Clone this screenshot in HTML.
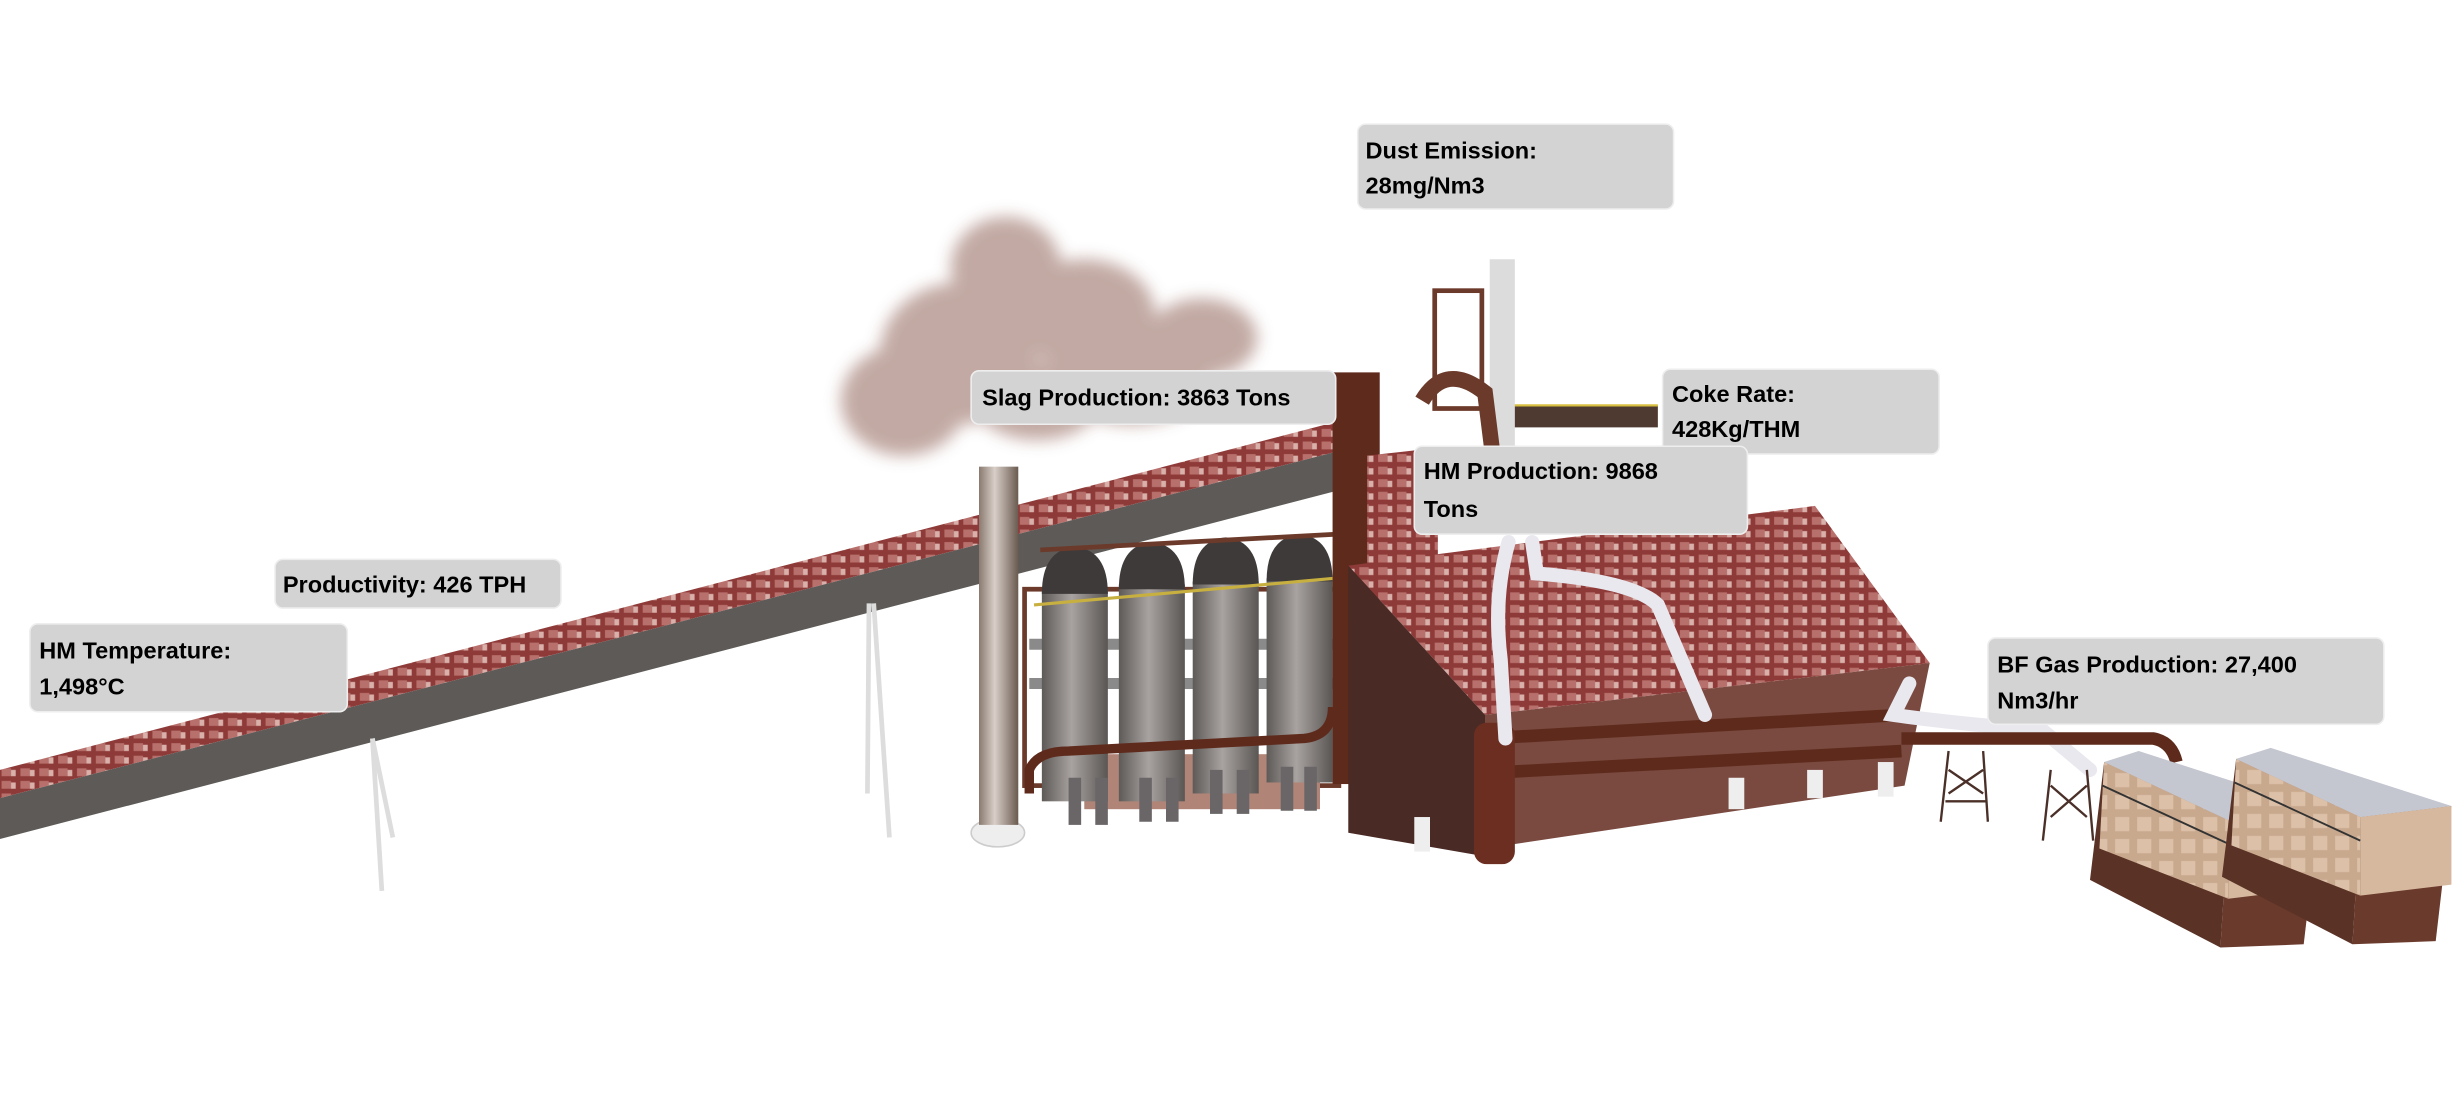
<!DOCTYPE html>
<html><head><meta charset="utf-8"><style>
html,body{margin:0;padding:0;background:#fff;}
svg{display:block}
.lb{font-family:"Liberation Sans",sans-serif;font-weight:bold;font-size:15px;fill:#000}
.bx{fill:#d3d3d3;stroke:#eee;stroke-width:1}
</style></head><body>
<svg width="2464" height="1114" viewBox="0 0 1568 709" preserveAspectRatio="none" xmlns="http://www.w3.org/2000/svg">
<defs>
<pattern id="tile" width="12" height="8" patternUnits="userSpaceOnUse">
<rect width="12" height="8" fill="#8e3a38"/><rect x="1" y="1" width="6" height="5" fill="#b8706c"/><rect x="7" y="2" width="3" height="4" fill="#d9b0aa"/>
</pattern>
<pattern id="chk" width="14" height="14" patternUnits="userSpaceOnUse">
<rect width="14" height="14" fill="#c9a98e"/><rect x="2" y="2" width="9" height="9" fill="#dcc0a8"/>
</pattern>
<filter id="bl" x="-20%" y="-20%" width="140%" height="140%"><feGaussianBlur stdDeviation="5"/></filter>
<linearGradient id="cyl" x1="0" x2="1"><stop offset="0" stop-color="#5e5a58"/><stop offset=".45" stop-color="#a8a3a0"/><stop offset="1" stop-color="#5a5654"/></linearGradient>
<linearGradient id="box" x1="0" x2="1"><stop offset="0" stop-color="#b89478"/><stop offset=".5" stop-color="#d6b89e"/><stop offset="1" stop-color="#b08f75"/></linearGradient>
<linearGradient id="ch" x1="0" x2="1"><stop offset="0" stop-color="#8a7a70"/><stop offset=".4" stop-color="#d8cfc8"/><stop offset="1" stop-color="#6a5a50"/></linearGradient>
</defs>
<!-- smoke -->
<g filter="url(#bl)" fill="#bca09a" opacity=".9">
<ellipse cx="575" cy="255" rx="40" ry="35"/><ellipse cx="640" cy="170" rx="35" ry="32"/><ellipse cx="690" cy="200" rx="45" ry="35"/><ellipse cx="765" cy="215" rx="35" ry="25"/><ellipse cx="610" cy="225" rx="50" ry="45"/><ellipse cx="720" cy="240" rx="50" ry="30"/><ellipse cx="660" cy="255" rx="40" ry="25"/>
</g>
<!-- conveyor -->
<polygon points="0,490 852,268 852,287 0,508" fill="url(#tile)"/>
<polygon points="0,508 852,287 852,312 0,534" fill="#5e5a57"/>
<g stroke="#ddd" stroke-width="3">
<line x1="237" y1="470" x2="243" y2="567"/><line x1="237" y1="470" x2="250" y2="533"/>
<line x1="553" y1="384" x2="552" y2="505"/><line x1="556" y1="384" x2="566" y2="533"/>
</g>
<!-- chimney -->
<ellipse cx="635" cy="530" rx="17" ry="9" fill="#eee" stroke="#ccc"/>
<rect x="623" y="297" width="25" height="228" fill="url(#ch)"/>
<!-- stove area -->
<rect x="652" y="375" width="200" height="125" fill="none" stroke="#6b3a2a" stroke-width="3"/>
<g stroke="#8a8a8a" stroke-width="7"><line x1="655" y1="410" x2="850" y2="410"/><line x1="655" y1="435" x2="850" y2="435"/></g>
<rect x="690" y="480" width="150" height="35" fill="#b08476"/>
<g fill="url(#cyl)">
<rect x="663" y="375" width="42" height="135"/>
<rect x="712" y="372" width="42" height="138"/>
<rect x="759" y="370" width="42" height="135"/>
<rect x="806" y="368" width="42" height="130"/>
</g>
<g fill="#3e3a3a">
<path d="M663,378 Q663,350 684,348 Q705,350 705,378Z"/>
<path d="M712,375 Q712,347 733,345 Q754,347 754,375Z"/>
<path d="M759,372 Q759,344 780,342 Q801,344 801,372Z"/>
<path d="M806,370 Q806,342 827,340 Q848,342 848,370Z"/>
</g>
<path d="M658,385 L850,368" stroke="#c8b040" stroke-width="2"/>
<path d="M662,350 L850,340" stroke="#6b3a2a" stroke-width="3"/>
<path d="M655,505 L655,490 Q660,478 680,478 L830,470 Q848,468 848,450" stroke="#5e2a1c" stroke-width="6" fill="none"/>
<g fill="#6a6668"><rect x="680" y="495" width="8" height="30"/><rect x="697" y="495" width="8" height="30"/><rect x="725" y="495" width="8" height="28"/><rect x="742" y="495" width="8" height="28"/><rect x="770" y="490" width="8" height="28"/><rect x="787" y="490" width="8" height="28"/><rect x="815" y="488" width="8" height="28"/><rect x="830" y="488" width="8" height="28"/></g>
<!-- column -->
<rect x="848" y="237" width="30" height="262" fill="#5e2a1c"/>
<!-- top structure -->
<rect x="913" y="185" width="30" height="75" fill="none" stroke="#6b3a2a" stroke-width="3"/>
<rect x="955" y="258" width="100" height="14" fill="#4e3a30"/>
<line x1="955" y1="258" x2="1055" y2="258" stroke="#d8c040" stroke-width="1.5"/>
<rect x="948" y="165" width="16" height="160" fill="#dcdcdc"/>
<path d="M905,255 Q920,230 945,250 L950,290" stroke="#6b3a2a" stroke-width="10" fill="none"/>
<!-- main building -->
<polygon points="858,360 1155,322 1228,422 945,455" fill="url(#tile)"/>
<polygon points="858,360 945,455 945,545 858,530" fill="#4a2a25"/>
<polygon points="945,455 1228,422 1212,500 945,540" fill="#7a4a40"/>
<polygon points="870,290 915,285 915,360 870,365" fill="url(#tile)"/>
<g stroke="#5e2a1c" stroke-width="8" fill="none">
<line x1="945" y1="470" x2="1210" y2="455"/><line x1="945" y1="492" x2="1210" y2="478"/>
</g>
<rect x="938" y="460" width="26" height="90" rx="8" fill="#6b2e20"/>
<g stroke="#e8e8ee" stroke-width="9" fill="none" stroke-linecap="round">
<path d="M960,345 Q950,380 955,420 L958,470"/>
<path d="M975,345 L978,365 Q1040,370 1055,385 L1085,455"/>
<path d="M1215,435 L1205,455 Q1240,460 1300,465 L1330,490"/>
</g>
<g fill="#eee"><rect x="1100" y="495" width="10" height="20"/><rect x="1150" y="490" width="10" height="18"/><rect x="1195" y="485" width="10" height="22"/><rect x="900" y="520" width="10" height="22"/></g>
<!-- gas pipe -->
<path d="M1210,470 L1370,470 Q1382,472 1385,485" stroke="#5e2a1c" stroke-width="8" fill="none"/>
<g stroke="#4a3028" stroke-width="1.5" fill="none">
<path d="M1240,478 L1235,523 M1262,478 L1265,523 M1240,490 L1262,505 M1262,490 L1240,505 M1238,510 L1264,510"/>
<path d="M1305,490 L1300,535 M1328,490 L1332,535 M1305,500 L1328,520 M1328,500 L1305,520"/>
</g>
<!-- boxes -->
<g id="b1">
<polygon points="1339,485 1418,522 1413,603 1330,560" fill="#5a3226"/>
<polygon points="1418,522 1476,515 1466,601 1413,603" fill="#6a3a2c"/>
<polygon points="1339,485 1418,522 1418,572 1336,540" fill="url(#chk)"/>
<polygon points="1418,522 1476,515 1476,565 1418,572" fill="#d6b89e"/>
<polygon points="1339,485 1361,478 1476,515 1418,522" fill="#c4c6d0"/>
<line x1="1338" y1="500" x2="1418" y2="537" stroke="#333" stroke-width="1.2"/>
</g>
<g transform="translate(84,-2)">
<polygon points="1339,485 1418,522 1413,603 1330,560" fill="#5a3226"/>
<polygon points="1418,522 1476,515 1466,601 1413,603" fill="#6a3a2c"/>
<polygon points="1339,485 1418,522 1418,572 1336,540" fill="url(#chk)"/>
<polygon points="1418,522 1476,515 1476,565 1418,572" fill="#d6b89e"/>
<polygon points="1339,485 1361,478 1476,515 1418,522" fill="#c4c6d0"/>
<line x1="1338" y1="500" x2="1418" y2="537" stroke="#333" stroke-width="1.2"/>
</g>
<!-- labels -->
<rect class="bx" x="864" y="79" width="201" height="54" rx="5"/>
<text class="lb" x="869" y="101">Dust Emission:</text><text class="lb" x="869" y="123">28mg/Nm3</text>
<rect class="bx" x="618" y="236" width="232" height="34" rx="5"/>
<text class="lb" x="625" y="258">Slag Production: 3863 Tons</text>
<rect class="bx" x="1058" y="235" width="176" height="54" rx="5"/>
<text class="lb" x="1064" y="256">Coke Rate:</text><text class="lb" x="1064" y="278">428Kg/THM</text>
<rect class="bx" x="900" y="284" width="212" height="56" rx="5"/>
<text class="lb" x="906" y="305">HM Production: 9868</text><text class="lb" x="906" y="329">Tons</text>
<rect class="bx" x="175" y="356" width="182" height="31" rx="5"/>
<text class="lb" x="180" y="377">Productivity: 426 TPH</text>
<rect class="bx" x="19" y="397" width="202" height="56" rx="5"/>
<text class="lb" x="25" y="419">HM Temperature:</text><text class="lb" x="25" y="442">1,498°C</text>
<rect class="bx" x="1265" y="406" width="252" height="55" rx="5"/>
<text class="lb" x="1271" y="428">BF Gas Production: 27,400</text><text class="lb" x="1271" y="451">Nm3/hr</text>
</svg>
</body></html>
